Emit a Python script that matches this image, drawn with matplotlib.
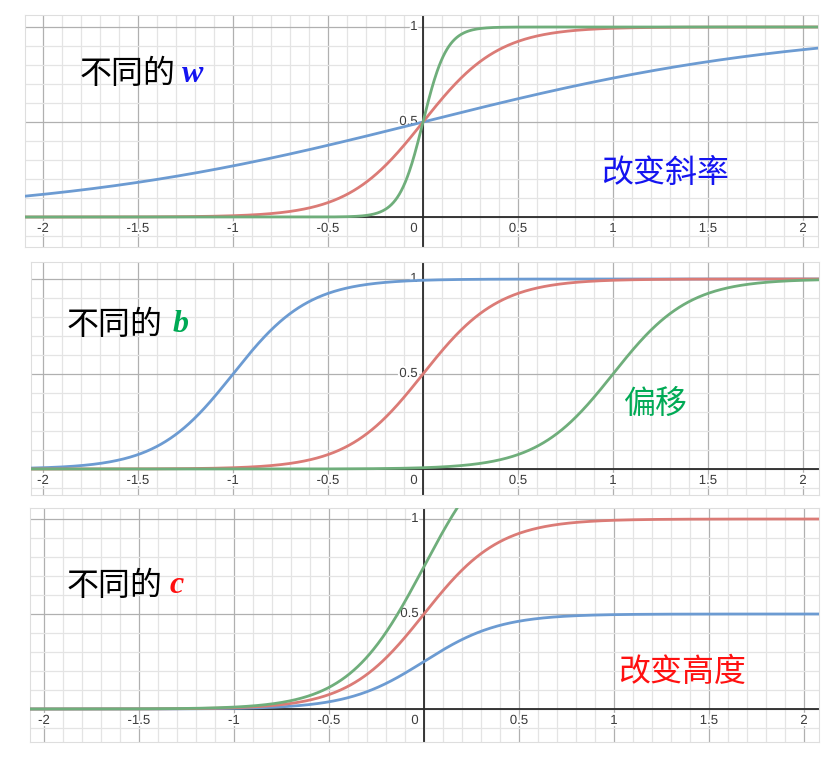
import matplotlib
matplotlib.use('Agg')
import matplotlib.pyplot as plt
import matplotlib.patheffects as pe
from matplotlib.ticker import MultipleLocator
import numpy as np

# parameters of the three families of curves  y = c / (1 + exp(-(w*x + b)))
w_vals = [1, 5, 16]      # panel 1, b = 0, c = 1
b_vals = [5, 0, -5]      # panel 2, w = 5, c = 1
c_vals = [0.5, 1, 1.5]   # panel 3, w = 5, b = 0
curve_colors = ['#6c9bd2', '#db7b76', '#6fae7b']   # blue, red, green

xtick_vals = [-2, -1.5, -1, -0.5, 0, 0.5, 1, 1.5, 2]
xtick_text = ['-2', '-1.5', '-1', '-0.5', '0', '0.5', '1', '1.5', '2']
ytick_vals = [0.5, 1]
ytick_text = ['0.5', '1']

titles = ['不同的', '不同的', '不同的']
letters = ['w', 'b', 'c']
notes = ['改变斜率', '偏移', '改变高度']
note_colors = ['#1414f0', '#00aa55', '#ff1010']

W, H = 833, 763
fig = plt.figure(figsize=(W / 100, H / 100), dpi=100)

# panel boxes in pixels: left, right, top, bottom, x of origin, y of origin
boxes = [(25, 818, 15, 247, 423, 217),
         (31, 819, 262, 495, 423, 469),
         (30, 819, 508, 742, 424, 709)]
unit = 190.0

# text placement (data coords): title x, letter x, y; note x, y
title_pos = [(-1.81, -1.27, 0.75), (-1.875, -1.32, 0.76), (-1.88, -1.34, 0.65)]
note_pos = [(0.94, 0.232), (1.06, 0.34), (1.02, 0.195)]

cjk = ['Noto Sans CJK SC', 'DejaVu Sans']
halo = [pe.withStroke(linewidth=3, foreground='white')]
lab = dict(fontsize=9.5, family='Liberation Sans', color='#3a3a3a',
           path_effects=halo, zorder=3)

for i, (l, r, t, bt, x0, y0) in enumerate(boxes):
    ax = fig.add_axes([l / W, 1 - bt / H, (r - l) / W, (bt - t) / H])
    xmin, xmax = (l - x0) / unit, (r - x0) / unit
    ymin, ymax = (y0 - bt) / unit, (y0 - t) / unit
    ax.set_xlim(xmin, xmax)
    ax.set_ylim(ymin, ymax)

    ax.xaxis.set_major_locator(MultipleLocator(0.5))
    ax.xaxis.set_minor_locator(MultipleLocator(0.1))
    ax.yaxis.set_major_locator(MultipleLocator(0.5))
    ax.yaxis.set_minor_locator(MultipleLocator(0.1))
    ax.grid(which='minor', color='#e4e4e4', lw=0.9)
    ax.grid(which='major', color='#b0b0b0', lw=0.9)
    ax.set_axisbelow(True)
    ax.tick_params(which='both', length=0, labelbottom=False, labelleft=False)
    for s in ax.spines.values():
        s.set_color('#dedede')
        s.set_linewidth(0.8)
    ax.axhline(0, color='#2a2a2a', lw=1.3, zorder=1.5)
    ax.axvline(0, color='#2a2a2a', lw=1.3, zorder=1.5)

    for xv, xs in zip(xtick_vals, xtick_text):
        if xv == 0:
            ax.text(-0.028, -0.063, xs, ha='right', va='center', **lab)
        else:
            ax.text(xv, -0.063, xs, ha='center', va='center', **lab)
    for yv, ys in zip(ytick_vals, ytick_text):
        ax.text(-0.028, yv, ys, ha='right', va='center', **lab)

    x = np.linspace(xmin, xmax, 1200)
    for k in range(3):
        if i == 0:
            w, b, c = w_vals[k], 0, 1
        elif i == 1:
            w, b, c = 5, b_vals[k], 1
        else:
            w, b, c = 5, 0, c_vals[k]
        y = c / (1 + np.exp(-(w * x + b)))
        ax.plot(x, y, color=curve_colors[k], lw=2.0, zorder=4 + k)

    tx, lx, ty = title_pos[i]
    ax.text(tx, ty, titles[i], ha='left', va='center', fontsize=23, family=cjk,
            color='black', zorder=6)
    ax.text(lx, ty, letters[i], ha='left', va='center', fontsize=23,
            family='Liberation Serif', style='italic', weight='bold',
            color=note_colors[i], zorder=6)
    nx, ny = note_pos[i]
    ax.text(nx, ny, notes[i], ha='left', va='center', fontsize=23, family=cjk,
            color=note_colors[i], zorder=6)

plt.savefig('out.png', dpi=100)
